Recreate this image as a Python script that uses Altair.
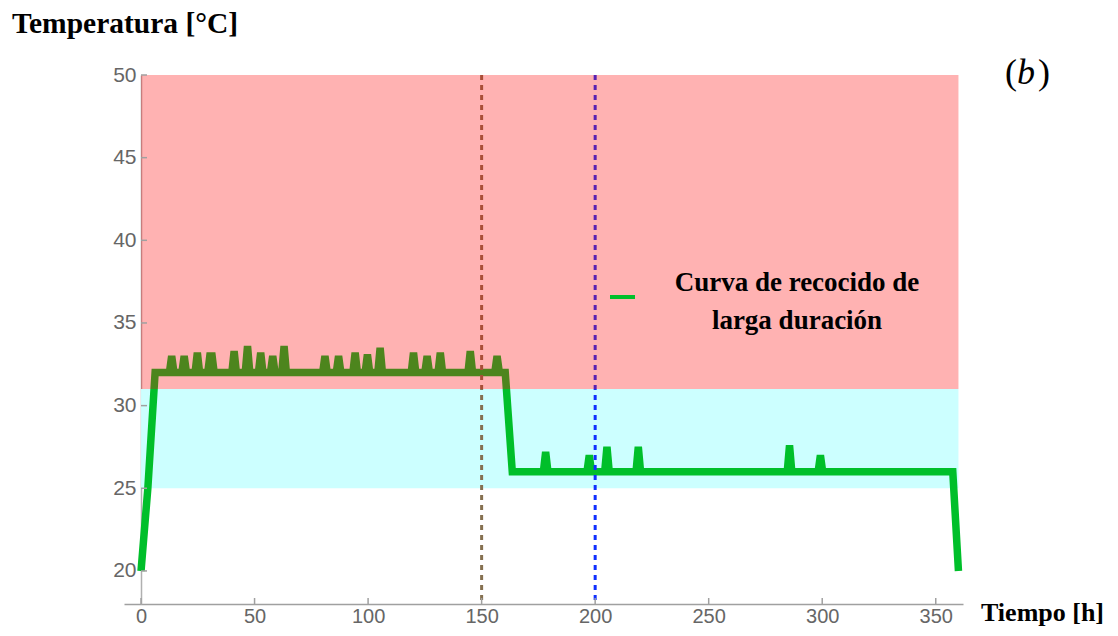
import altair as alt
import pandas as pd

# ---- data ----
hours = [0, 3, 6.2,
         12.5, 13.5, 14.5,
         18.0, 19.0, 20.0,
         23.8, 24.8, 25.8,
         29.4, 30.3, 31.3, 32.2,
         40.0, 41.0, 42.0,
         45.9, 46.9, 47.9,
         51.7, 52.7, 53.7,
         57.0, 58.0, 59.0,
         62.0, 63.0, 64.0,
         80.0, 81.0, 82.0,
         86.0, 87.0, 88.0,
         93.3, 94.3, 95.3,
         98.7, 99.7, 100.7,
         104.3, 105.3, 106.3,
         119.0, 120.0, 121.0,
         125.0, 126.0, 127.0,
         130.8, 131.8, 132.8,
         144.0, 145.0, 146.0,
         155.8, 156.8, 157.8,
         160.4, 163.5,
         177.2, 178.2, 179.2,
         196.4, 197.4, 198.4,
         204.2, 205.2, 206.2,
         218.0, 219.0, 220.0,
         284.6, 285.6, 286.6,
         298.2, 299.2, 300.2,
         357.5, 360]

temps = [20, 25, 32,
         32, 33.0, 32,
         32, 33.0, 32,
         32, 33.2, 32,
         32, 33.0, 33.0, 32,
         32, 33.3, 32,
         32, 33.6, 32,
         32, 33.2, 32,
         32, 33.0, 32,
         32, 33.6, 32,
         32, 33.0, 32,
         32, 33.0, 32,
         32, 33.2, 32,
         32, 33.1, 32,
         32, 33.5, 32,
         32, 33.2, 32,
         32, 33.0, 32,
         32, 33.2, 32,
         32, 33.3, 32,
         32, 33.0, 32,
         32, 26,
         26, 27.2, 26,
         26, 27.0, 26,
         26, 27.5, 26,
         26, 27.5, 26,
         26, 27.6, 26,
         26, 27.0, 26,
         26, 20]

band_x0 = [0, 0]
band_x1 = [360, 360]
band_y0 = [25, 31]
band_y1 = [31, 50]

vline_x = [150, 200]

x_ticks = [0, 50, 100, 150, 200, 250, 300, 350]
y_ticks = [20, 25, 30, 35, 40, 45, 50]

y_title = "Temperatura [°C]"
x_title = "Tiempo [h]"
legend_lines = ["Curva de recocido de", "larga duración"]

# ---- layout ----
W, H = 839, 529
GREEN = "#00bf2a"

line_df = pd.DataFrame({"t": hours, "T": temps, "i": list(range(len(hours)))})
low_band = pd.DataFrame({"x0": [band_x0[0]], "x1": [band_x1[0]], "y0": [band_y0[0]], "y1": [band_y1[0]]})
high_band = pd.DataFrame({"x0": [band_x0[1]], "x1": [band_x1[1]], "y0": [band_y0[1]], "y1": [band_y1[1]]})

xs = alt.Scale(domain=[-7.5, 362], nice=False, zero=False)
ys = alt.Scale(domain=[18, 50], nice=False, zero=False)

x_axis = alt.Axis(values=x_ticks, title=None, ticks=False, grid=False, domainColor="#a0a0a0",
                  domainWidth=1.5, labelColor="#666666", labelFont="Liberation Sans",
                  labelFontSize=20, labelPadding=2)
y_axis = alt.Axis(values=y_ticks, title=None, ticks=False, grid=False, domainColor="#b0b0b0",
                  domainWidth=1.5, labelColor="#666666", labelFont="Liberation Sans",
                  labelFontSize=21, labelPadding=5, offset=-17)

cyan = alt.Chart(low_band).mark_rect(color="#ccffff").encode(
    x=alt.X("x0:Q", scale=xs, axis=x_axis), x2="x1:Q",
    y=alt.Y("y0:Q", scale=ys, axis=y_axis), y2="y1:Q")

line = alt.Chart(line_df).mark_line(color=GREEN, strokeWidth=7.5, strokeJoin="miter").encode(
    x=alt.X("t:Q", scale=xs), y=alt.Y("T:Q", scale=ys), order="i:Q")

vl_df = pd.DataFrame({"x": vline_x, "c": ["a", "b"]})
vlines = alt.Chart(vl_df).mark_rule(strokeWidth=3, strokeDash=[5, 5]).encode(
    x=alt.X("x:Q", scale=xs),
    y=alt.value(0), y2=alt.value(H),
    color=alt.Color("c:N", scale=alt.Scale(domain=["a", "b"], range=["#857050", "#1030ff"]), legend=None))

red = alt.Chart(high_band).mark_rect(color="#ff0000", opacity=0.3).encode(
    x=alt.X("x0:Q", scale=xs), x2="x1:Q",
    y=alt.Y("y0:Q", scale=ys), y2="y1:Q")

xt = alt.Chart(pd.DataFrame({"v": x_ticks})).mark_rule(color="#a0a0a0", strokeWidth=1.5).encode(
    x=alt.X("v:Q", scale=xs), y=alt.value(H), y2=alt.value(H - 6))
yt = alt.Chart(pd.DataFrame({"v": y_ticks})).mark_rule(color="#a0a0a0", strokeWidth=1.5).encode(
    y=alt.Y("v:Q", scale=ys), x=alt.value(17), x2=alt.value(23))

one = pd.DataFrame({"d": [0]})
leg_line = alt.Chart(one).mark_rule(color=GREEN, strokeWidth=4).encode(
    x=alt.value(486), x2=alt.value(511), y=alt.value(222))


def txt(s, x, y, size, align="left", weight="bold", style="normal", font="Liberation Serif"):
    return alt.Chart(pd.DataFrame({"s": [s]})).mark_text(
        align=align, baseline="alphabetic", fontSize=size, fontWeight=weight,
        fontStyle=style, font=font, color="black").encode(
        x=alt.value(x), y=alt.value(y), text="s:N")


texts = [
    txt(y_title, -112, -42, 29.5),
    txt(x_title, 857, 546, 26),
    txt(legend_lines[0], 673, 216, 27, align="center"),
    txt(legend_lines[1], 673, 254, 27, align="center"),
    txt("(", 881, 9, 36, weight="normal"),
    txt("b", 893, 9, 36, weight="normal", style="italic"),
    txt(")", 914, 9, 36, weight="normal"),
]

chart = alt.layer(cyan, line, vlines, red, xt, yt, leg_line, *texts).properties(
    width=W, height=H,
    autosize=alt.AutoSizeParams(type="none"),
    padding={"left": 116, "top": 67, "right": 147, "bottom": 24},
).configure_view(stroke=None)

chart.save("out.html", embed_options={"renderer": "svg", "actions": False})
